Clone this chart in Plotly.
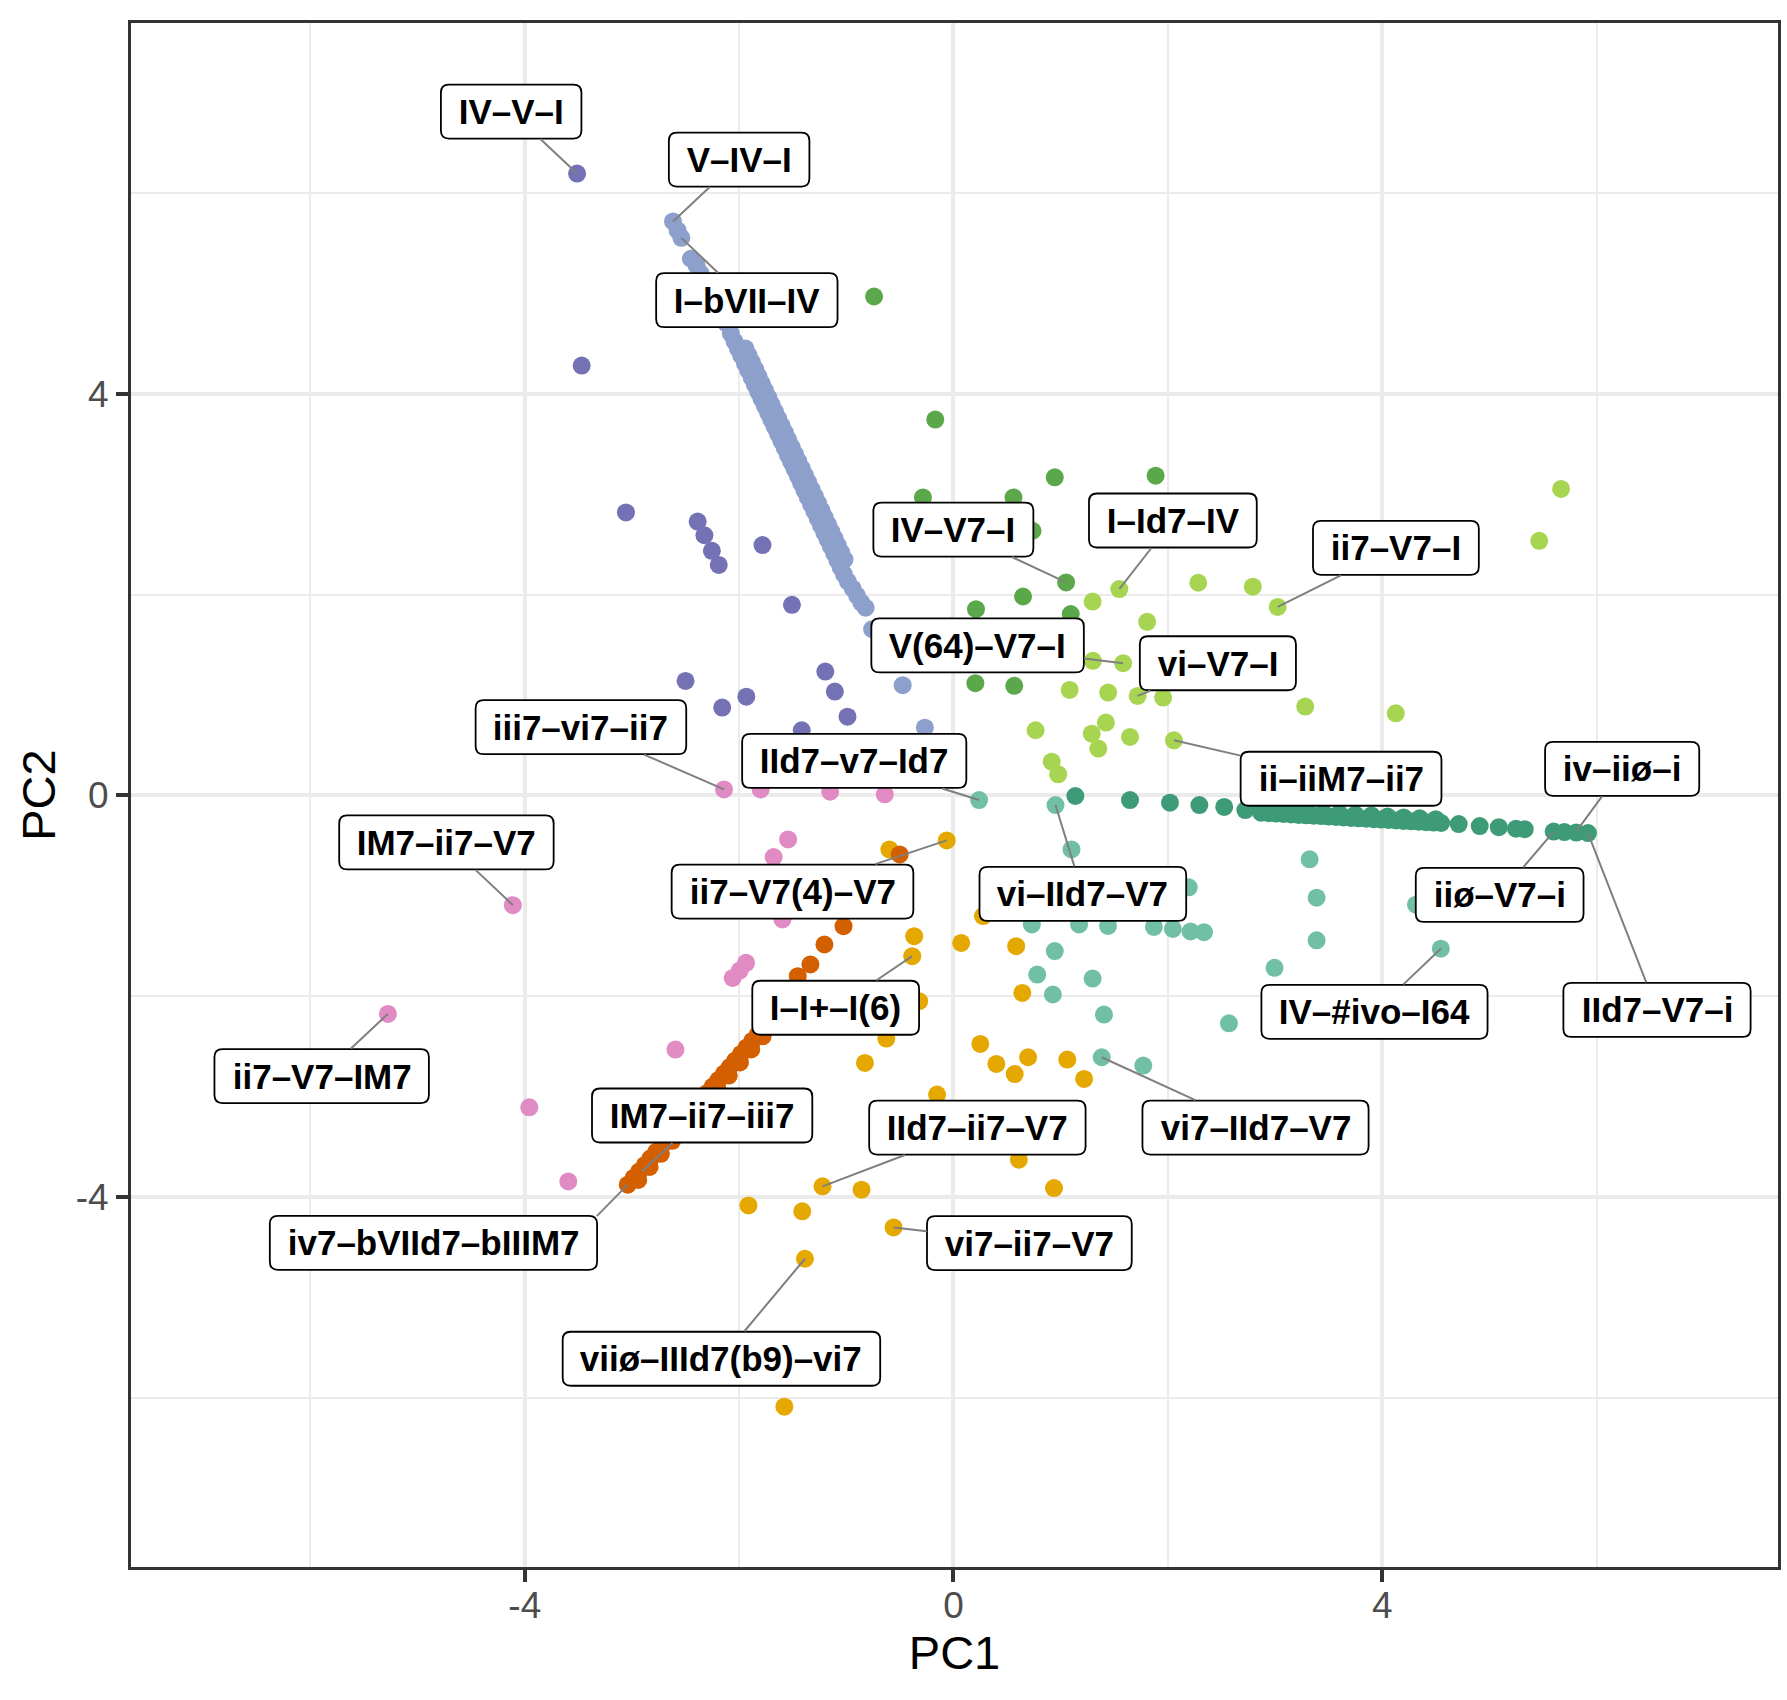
import plotly.graph_objects as go

# ---------------- data (PC1, PC2) per cluster ----------------
purple_x = [-3.512, -3.469, -3.056, -2.387, -2.324, -2.254, -2.190, -1.782, -1.507,
            -2.500, -2.158, -1.933, -1.196, -1.107, -0.989, -1.416]
purple_y = [6.193, 4.281, 2.818, 2.727, 2.591, 2.436, 2.295, 2.493, 1.898,
            1.140, 0.875, 0.983, 1.233, 1.034, 0.784, 0.648]

lightblue_x = [-2.617, -2.574, -2.539, -2.450, -2.397, -2.36, -2.31, -2.27, -2.22, -2.17, -2.12,
               -2.077, -2.042, -2.011, -1.980, -1.945, -1.914, -1.883, -1.853, -1.822, -1.791,
               -1.760, -1.729, -1.699, -1.668, -1.637, -1.606, -1.575, -1.545, -1.514, -1.483,
               -1.452, -1.421, -1.391, -1.360, -1.329, -1.298, -1.267, -1.237, -1.206, -1.175,
               -1.144, -1.113, -1.083, -1.052, -1.021, -0.985, -0.940, -0.900, -0.860, -0.820,
               -0.759, -0.474, -0.267,
               -1.941, -1.910, -1.879, -1.848, -1.818, -1.787, -1.756, -1.725, -1.695, -1.664,
               -1.633, -1.602, -1.571, -1.541, -1.510, -1.479, -1.448, -1.417, -1.387, -1.356,
               -1.325, -1.294, -1.263, -1.232, -1.202, -1.171, -1.140, -1.109, -1.079, -1.048, -1.017]
lightblue_y = [5.717, 5.627, 5.553, 5.345, 5.278, 5.20, 5.10, 5.00, 4.90, 4.80, 4.70,
               4.60, 4.52, 4.45, 4.38, 4.30, 4.23, 4.16, 4.09, 4.02, 3.95,
               3.88, 3.81, 3.74, 3.67, 3.60, 3.53, 3.46, 3.39, 3.32, 3.25,
               3.18, 3.11, 3.04, 2.97, 2.90, 2.83, 2.76, 2.69, 2.62, 2.55,
               2.48, 2.41, 2.34, 2.27, 2.20, 2.13, 2.06, 1.99, 1.92, 1.87,
               1.656, 1.098, 0.675,
               4.45, 4.38, 4.31, 4.24, 4.17, 4.10, 4.03, 3.96, 3.89, 3.82,
               3.75, 3.68, 3.61, 3.54, 3.47, 3.40, 3.33, 3.26, 3.19, 3.12,
               3.05, 2.98, 2.91, 2.84, 2.77, 2.70, 2.63, 2.56, 2.49, 2.42, 2.35]

green_x = [-0.741, -0.170, 0.945, 1.886, -0.285, 0.560, 0.738, 1.051, 0.649, 0.210, 1.094, 0.204, 0.567]
green_y = [4.969, 3.743, 3.168, 3.184, 2.968, 2.968, 2.636, 2.121, 1.981, 1.855, 1.806, 1.118, 1.091]

lime_x = [5.669, 5.465, 2.284, 2.793, 3.025, 1.547, 1.298, 1.807, 1.583, 1.301, 1.084, 1.443,
          1.718, 1.956, 3.282, 4.127, 0.766, 1.290, 1.422, 1.351, 1.647, 2.057, 0.916, 0.977]
lime_y = [3.052, 2.536, 2.118, 2.079, 1.877, 2.055, 1.931, 1.729, 1.317, 1.340, 1.051, 1.024,
          0.991, 0.974, 0.885, 0.817, 0.649, 0.615, 0.725, 0.466, 0.582, 0.549, 0.336, 0.210]

lightteal_x = [0.239, 0.952, 1.101, 3.323, 3.388, 3.388, 4.315, 4.547, 2.195, 0.731, 1.172, 1.442,
               1.870, 2.047, 2.212, 2.337, 0.945, 0.781, 1.298, 0.927, 1.404, 2.996, 2.570, 1.383, 1.771]
lightteal_y = [-0.046, -0.096, -0.538, -0.637, -1.019, -1.443, -1.088, -1.527, -0.916, -1.285, -1.285, -1.30,
               -1.31, -1.33, -1.355, -1.362, -1.55, -1.784, -1.824, -1.983, -2.183, -1.717, -2.27, -2.608, -2.691]

darkteal_x = [1.137, 1.647, 2.020, 2.294, 2.526, 2.723, 2.87, 2.94, 3.01, 3.08, 3.15, 3.22, 3.29,
              3.36, 3.43, 3.50, 3.57, 3.64, 3.71, 3.78, 3.85, 3.92, 3.99, 4.06, 4.13, 4.20, 4.27,
              4.34, 4.41, 4.48, 4.55, 4.714, 4.910, 5.088, 5.248, 5.330, 5.60, 5.70, 5.81, 5.92,
              3.00, 3.15, 3.30, 3.45, 3.60, 3.75, 3.90, 4.05, 4.20, 4.35, 4.50]
darkteal_y = [-0.006, -0.046, -0.072, -0.096, -0.115, -0.146, -0.172, -0.176, -0.181, -0.185, -0.189,
              -0.194, -0.198, -0.202, -0.206, -0.211, -0.215, -0.219, -0.224, -0.228, -0.232, -0.237,
              -0.241, -0.245, -0.250, -0.254, -0.258, -0.262, -0.267, -0.271, -0.275, -0.286, -0.305,
              -0.317, -0.332, -0.336, -0.36, -0.365, -0.37, -0.375,
              -0.145, -0.154, -0.163, -0.173, -0.182, -0.191, -0.200, -0.210, -0.219, -0.228, -0.237]

gold_x = [-0.063, -0.598, 0.275, -0.367, 0.072, 0.585, -0.385, -0.320, -0.627, -0.826, 0.642, 0.250,
          0.400, 0.571, 0.696, 1.062, 1.219, -0.153, 0.610, 0.938, -1.222, -0.858, -0.559, -1.411,
          -1.913, -1.386, -1.578]
gold_y = [-0.448, -0.538, -1.202, -1.402, -1.469, -1.502, -1.601, -2.050, -2.422, -2.665, -1.967, -2.475,
          -2.675, -2.775, -2.608, -2.631, -2.824, -2.980, -3.628, -3.911, -3.894, -3.927, -4.303, -4.143,
          -4.084, -4.615, -6.088]

orange_x = [-0.502, -1.026, -1.204, -1.335, -1.453, -1.55, -1.63, -1.70, -1.773, -1.825, -1.878,
            -1.930, -1.983, -2.036, -2.088, -2.141, -2.194, -2.247, -2.299, -2.352, -2.405, -2.458,
            -2.510, -2.563, -2.616, -2.668, -2.721, -2.774, -2.827, -2.879, -2.932, -2.985, -3.039,
            -1.781, -1.887, -1.992, -2.097, -2.203, -2.308, -2.414, -2.519, -2.625, -2.730, -2.835, -2.941]
orange_y = [-0.588, -1.302, -1.485, -1.684, -1.800, -1.93, -2.06, -2.20, -2.316, -2.38, -2.445,
            -2.51, -2.575, -2.64, -2.705, -2.77, -2.835, -2.90, -2.965, -3.03, -3.095, -3.16,
            -3.225, -3.29, -3.355, -3.42, -3.485, -3.55, -3.615, -3.68, -3.745, -3.81, -3.877,
            -2.40, -2.53, -2.66, -2.79, -2.92, -3.05, -3.18, -3.31, -3.44, -3.57, -3.70, -3.83]

pink_x = [-4.111, -5.277, -3.958, -3.594, -2.594, -2.141, -1.799, -1.151, -0.641, -1.543, -1.678,
          -1.596, -1.935, -1.995, -2.060]
pink_y = [-1.093, -2.176, -3.107, -3.845, -2.532, 0.060, 0.060, 0.037, 0.011, -0.438, -0.614,
          -1.236, -1.668, -1.745, -1.818]

# labels: text, labelled point, label centre
label_text = ["IV–V–I", "V–IV–I", "I–bVII–IV", "IV–V7–I", "I–Id7–IV", "ii7–V7–I", "V(64)–V7–I",
              "vi–V7–I", "ii–iiM7–ii7", "iv–iiø–i", "iiø–V7–i", "IId7–V7–i", "IV–#ivo–I64",
              "vi7–IId7–V7", "vi–IId7–V7", "IId7–v7–Id7", "iii7–vi7–ii7", "IM7–ii7–V7",
              "ii7–V7(4)–V7", "I–I+–I(6)", "IM7–ii7–iii7", "iv7–bVIId7–bIIIM7", "IId7–ii7–V7",
              "vi7–ii7–V7", "viiø–IIId7(b9)–vi7", "ii7–V7–IM7"]
label_px = [-3.512, -2.617, -2.539, 1.051, 1.547, 3.025, 1.583, 1.718, 2.057, 5.81, 5.60, 5.92, 4.547,
            1.383, 0.952, 0.239, -2.141, -4.111, -0.063, -0.385, -2.907, -3.039, -1.222, -0.559,
            -1.386, -5.277]
label_py = [6.193, 5.717, 5.553, 2.121, 2.055, 1.877, 1.317, 0.991, 0.549, -0.36, -0.36, -0.375, -1.527,
            -2.608, -0.096, -0.046, 0.060, -1.093, -0.448, -1.601, -3.745, -3.877, -3.894, -4.303,
            -4.615, -2.176]
label_tx = [-4.127, -2.000, -1.928, -0.001, 2.047, 4.128, 0.225, 2.467, 3.616, 6.239, 5.096, 6.564, 3.928,
            2.818, 1.207, -0.926, -3.476, -4.731, -1.502, -1.099, -2.345, -4.852, 0.223, 0.708,
            -2.165, -5.895]
label_ty = [6.811, 6.333, 4.932, 2.648, 2.738, 2.466, 1.494, 1.316, 0.166, 0.265, -0.991, -2.137, -2.156,
            -3.308, -0.981, 0.343, 0.680, -0.468, -0.958, -2.115, -3.188, -4.456, -3.308, -4.459,
            -5.611, -2.795]
# leader segments that end at a box corner instead of pointing at the label centre
corner_leader = {"iv7–bVIId7–bIIIM7": (-3.328, -4.19)}

# ---------------- styling helpers ----------------
FONT = "Liberation Sans, Arial, sans-serif"
LABEL_SIZE = 35
PAD = 8
BOX_H = 54
RADIUS = 8
LEADER_COLOR = "#7F7F7F"
LEADER_W = 2
BOLD_W = {" ": 0.278, "\u00a0": 0.278, "#": 0.556, "(": 0.333, ")": 0.333, "+": 0.584,
          "4": 0.556, "6": 0.556, "7": 0.556, "9": 0.556, "I": 0.278, "M": 0.833,
          "V": 0.667, "b": 0.611, "d": 0.611, "i": 0.278, "o": 0.611, "v": 0.556,
          "–": 0.556, "ø": 0.611}


def text_width(s):
    return sum(BOLD_W.get(c, 0.6) for c in s) * LABEL_SIZE


def rounded_rect(w, h, r):
    x0, x1, y0, y1 = -w / 2, w / 2, -h / 2, h / 2
    return (f"M {x0 + r},{y0} L {x1 - r},{y0} Q {x1},{y0} {x1},{y0 + r} "
            f"L {x1},{y1 - r} Q {x1},{y1} {x1 - r},{y1} L {x0 + r},{y1} "
            f"Q {x0},{y1} {x0},{y1 - r} L {x0},{y0 + r} Q {x0},{y0} {x0 + r},{y0} Z")


# ---------------- figure ----------------
clusters = [
    (purple_x, purple_y, "#7471B4"),
    (lightblue_x, lightblue_y, "#8DA0CB"),
    (green_x, green_y, "#5BA84A"),
    (lime_x, lime_y, "#A8D551"),
    (lightteal_x, lightteal_y, "#71C0A5"),
    (darkteal_x, darkteal_y, "#3D9B77"),
    (gold_x, gold_y, "#E5A800"),
    (orange_x, orange_y, "#D35F00"),
    (pink_x, pink_y, "#E08BC3"),
]

fig = go.Figure()
for xs, ys, col in clusters:
    fig.add_trace(go.Scatter(x=xs, y=ys, mode="markers",
                             marker=dict(size=18, color=col, line=dict(width=0)),
                             showlegend=False, hoverinfo="skip"))

for t, px, py, tx, ty in zip(label_text, label_px, label_py, label_tx, label_ty):
    txt = "\u00a0" + t + "\u00a0"
    w = text_width(txt) + 2 * PAD
    use_corner = t in corner_leader
    if use_corner:
        cx, cy = corner_leader[t]
        fig.add_shape(type="line", xref="x", yref="y", x0=px, y0=py, x1=cx, y1=cy,
                      line=dict(color=LEADER_COLOR, width=LEADER_W), layer="above")
    fig.add_shape(type="path", xref="x", yref="y", xsizemode="pixel", ysizemode="pixel",
                  xanchor=tx, yanchor=ty, path=rounded_rect(w, BOX_H, RADIUS),
                  fillcolor="white", line=dict(color="black", width=1.8), layer="above")
    if use_corner:
        fig.add_annotation(
            x=tx, y=ty, xref="x", yref="y", text=txt, showarrow=False,
            bgcolor="rgba(0,0,0,0)", borderwidth=0, borderpad=PAD,
            font=dict(family=FONT, size=LABEL_SIZE, color="black", weight="bold"),
        )
    else:
        fig.add_annotation(
            x=px, y=py, ax=tx, ay=ty, xref="x", yref="y", axref="x", ayref="y",
            text=txt, showarrow=True, arrowhead=0, arrowwidth=LEADER_W,
            arrowcolor=LEADER_COLOR, standoff=0, startstandoff=0,
            bgcolor="rgba(0,0,0,0)", borderwidth=0, borderpad=PAD,
            font=dict(family=FONT, size=LABEL_SIZE, color="black", weight="bold"),
        )

axis_common = dict(
    tickmode="array", tickvals=[-4, 0, 4], ticktext=["-4", "0", "4"],
    showgrid=True, gridcolor="#EBEBEB", gridwidth=4.2,
    minor=dict(tickmode="array", tickvals=[-6, -2, 2, 6], showgrid=True,
               gridcolor="#EBEBEB", gridwidth=2.2, ticklen=0),
    zeroline=False, showline=True, mirror=True, linecolor="#333333", linewidth=3,
    ticks="outside", ticklen=12, tickwidth=4, tickcolor="#333333",
    tickfont=dict(family=FONT, size=37, color="#4D4D4D"),
)

fig.update_xaxes(range=[-7.674, 7.693], ticklabelstandoff=-8,
                 title=dict(text="PC1", standoff=6, font=dict(family=FONT, size=47, color="black")),
                 **axis_common)
fig.update_yaxes(range=[-7.685, 7.693],
                 title=dict(text="PC2", standoff=6, font=dict(family=FONT, size=47, color="black")),
                 **axis_common)

fig.update_layout(
    width=1787, height=1700,
    margin=dict(l=131, r=6, t=23, b=133),
    plot_bgcolor="white", paper_bgcolor="white",
    showlegend=False,
)

fig.write_html("out.html")
